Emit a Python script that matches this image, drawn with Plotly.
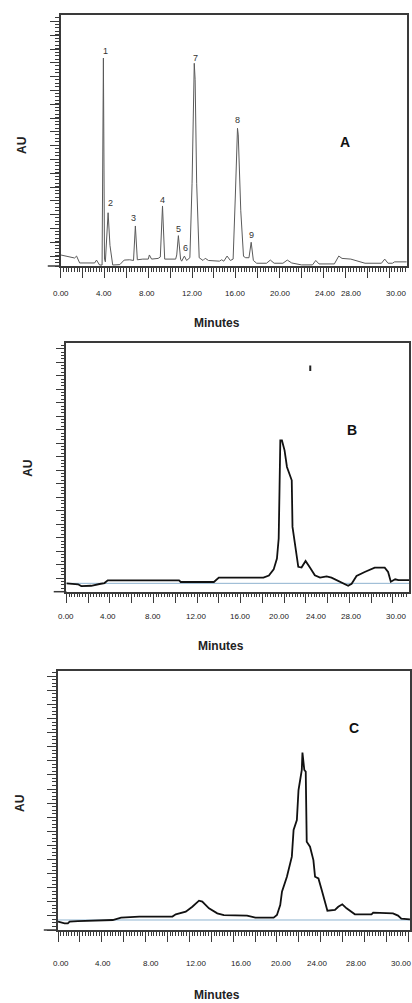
import plotly.graph_objects as go

# ---------------- data ----------------
# Panel A (standards chromatogram)
a_time = [0, 1.27, 1.45, 1.73, 3.1, 3.27, 3.55, 3.78, 3.9, 4.0, 4.08, 4.2, 4.33, 4.5, 4.75, 5.4, 5.8, 6.3,
          6.65, 6.82, 7.0, 7.5, 8.0, 8.1, 8.3, 8.9, 9.1, 9.3, 9.5, 10.5, 10.6, 10.75, 10.95, 11.05, 11.3,
          11.5, 11.8, 12.0, 12.12, 12.2, 12.28, 12.42, 12.65, 13.0, 13.2, 13.5, 14.5, 14.7, 14.9, 15.2,
          15.5, 15.75, 15.95, 16.1, 16.15, 16.22, 16.45, 16.7, 16.9, 17.2, 17.4, 17.6, 17.9, 18.8, 19.15,
          19.5, 20.3, 20.7, 21.1, 22.0, 23.0, 23.3, 23.6, 25.0, 25.2, 25.4, 25.7, 26.5, 27.8, 29.3, 29.6,
          29.9, 30.3, 30.5, 31.6]
a_au = [0.080, 0.058, 0.072, 0.022, 0.022, 0.043, 0.007, 0.007, 1.507, 0.05, 0.03, 0.2, 0.386, 0.15, 0.007,
        0.01, 0.043, 0.045, 0.04, 0.29, 0.045, 0.05, 0.05, 0.08, 0.05, 0.055, 0.065, 0.435, 0.05, 0.05, 0.08,
        0.22, 0.05, 0.035, 0.072, 0.04, 0.06, 0.6, 1.35, 1.469, 1.35, 0.6, 0.06, 0.04, 0.056, 0.04, 0.035,
        0.045, 0.035, 0.072, 0.04, 0.05, 0.5, 0.97, 0.998, 0.95, 0.4, 0.07, 0.06, 0.06, 0.172, 0.04, 0.02,
        0.02, 0.043, 0.02, 0.02, 0.043, 0.022, 0.008, 0.008, 0.04, 0.015, 0.015, 0.04, 0.072, 0.055, 0.05,
        0.02, 0.02, 0.05, 0.02, 0.02, 0.03, 0.03]
peak_labels = ["1", "2", "3", "4", "5", "6", "7", "8", "9"]
peak_label_t = [4.09, 4.55, 6.64, 9.27, 10.73, 11.43, 12.34, 16.18, 17.45]
peak_label_au = [1.56, 0.457, 0.35, 0.478, 0.27, 0.13, 1.51, 1.058, 0.225]

# Panel B
b_time = [0, 1.07, 1.37, 2.28, 3.04, 3.5, 3.8, 10.35, 10.5, 13.55, 14.0, 18.1, 18.6, 19.04, 19.34, 19.5,
          19.58, 19.65, 19.8, 20.04, 20.26, 20.56, 20.7, 20.77, 21.0, 21.3, 21.6, 21.97, 22.37, 22.82,
          23.3, 23.9, 24.35, 25.57, 25.88, 26.2, 26.65, 27.4, 28.32, 29.24, 29.55, 29.8, 30.2, 30.5, 31.47]
b_au = [0.062, 0.055, 0.042, 0.044, 0.057, 0.064, 0.084, 0.084, 0.072, 0.072, 0.104, 0.104, 0.12, 0.165,
        0.246, 0.394, 0.775, 1.12, 1.12, 1.047, 0.924, 0.85, 0.825, 0.48, 0.332, 0.184, 0.179, 0.228,
        0.179, 0.122, 0.104, 0.114, 0.104, 0.054, 0.044, 0.059, 0.116, 0.146, 0.178, 0.178, 0.146, 0.074,
        0.092, 0.085, 0.085]
b_spot_t = [22.4]
b_spot_au = [1.655]
b_baseline = 0.062

# Panel C
c_time = [0, 0.6, 0.9, 1.06, 1.82, 5.0, 5.76, 7.43, 10.45, 10.76, 11.67, 12.27, 12.88, 13.18, 13.79, 14.55,
          15.15, 17.27, 18.03, 19.7, 20.0, 20.3, 20.46, 20.91, 21.36, 21.52, 21.82, 21.97, 22.12, 22.27,
          22.33, 22.42, 22.5, 22.63, 22.72, 23.02, 23.33, 23.48, 23.79, 24.09, 24.4, 24.61, 25.3, 25.6,
          25.97, 26.36, 27.12, 28.64, 28.79, 30.6, 31.06, 31.36, 32.15]
c_au = [0.059, 0.047, 0.047, 0.059, 0.063, 0.071, 0.088, 0.095, 0.095, 0.111, 0.13, 0.165, 0.208, 0.201,
        0.154, 0.118, 0.106, 0.102, 0.088, 0.088, 0.106, 0.177, 0.272, 0.378, 0.52, 0.709, 0.78, 0.993,
        1.064, 1.135, 1.258, 1.206, 1.135, 1.123, 0.626, 0.591, 0.496, 0.378, 0.366, 0.284, 0.189, 0.137,
        0.142, 0.165, 0.182, 0.154, 0.111, 0.111, 0.123, 0.118, 0.102, 0.08, 0.076]
c_baseline = 0.071

tick_text = ["0.00", "4.00", "8.00", "12.00", "16.00", "20.00", "24.00", "28.00", "30.00"]
a_tick_pos = [0, 3.91, 7.91, 12.0, 16.0, 20.09, 24.18, 26.55, 30.64]
b_tick_pos = [0, 3.8, 7.92, 11.94, 16.0, 19.6, 23.0, 26.2, 30.3]
c_tick_pos = [0.31, 4.15, 8.49, 12.64, 16.76, 20.4, 23.73, 27.27, 31.36]

# ---------------- layout geometry (pixels) ----------------
W, H = 412, 1003
def px(x):
    return x / W
def py(y):
    return 1 - y / H

panels = [
    dict(x0=61, x1=409, y0=15, y1=266, xmax=31.636, ymax=1.819, tick0=0.072, lab_y=293.5,
         au=(22, 145), min_y=323, ext=48, letter="A", letter_pos=(26.0, 0.90)),
    dict(x0=66.7, x1=411, y0=342.7, y1=591.7, xmax=31.47, ymax=1.844, tick0=0.0, lab_y=616.7,
         au=(28, 468), min_y=646, ext=54, letter="B", letter_pos=(26.26, 1.198)),
    dict(x0=58.3, x1=412, y0=671, y1=930, xmax=32.155, ymax=1.837, tick0=0.0, lab_y=963.3,
         au=(20, 803), min_y=995, ext=44, letter="C", letter_pos=(27.06, 1.43)),
]

fig = go.Figure()
axis_col = "#3a3a3a"

fig.add_trace(go.Scatter(x=a_time, y=a_au, mode="lines", line=dict(color="#5a5a5a", width=1),
                         xaxis="x", yaxis="y", hoverinfo="skip"))
fig.add_trace(go.Scatter(x=[0, panels[1]["xmax"]], y=[b_baseline, b_baseline], mode="lines",
                         line=dict(color="#8fb3cf", width=1), xaxis="x2", yaxis="y2", hoverinfo="skip"))
fig.add_trace(go.Scatter(x=b_time, y=b_au, mode="lines", line=dict(color="#111111", width=1.8),
                         xaxis="x2", yaxis="y2", hoverinfo="skip"))
fig.add_trace(go.Scatter(x=b_spot_t, y=b_spot_au, mode="markers",
                         marker=dict(symbol="line-ns", size=4, line=dict(color="#222222", width=2)),
                         xaxis="x2", yaxis="y2", hoverinfo="skip"))
fig.add_trace(go.Scatter(x=[0, panels[2]["xmax"]], y=[c_baseline, c_baseline], mode="lines",
                         line=dict(color="#8fb3cf", width=1), xaxis="x3", yaxis="y3", hoverinfo="skip"))
fig.add_trace(go.Scatter(x=c_time, y=c_au, mode="lines", line=dict(color="#111111", width=1.8),
                         xaxis="x3", yaxis="y3", hoverinfo="skip"))

annotations = []
shapes = []
layout_axes = {}
tick_sets = [a_tick_pos, b_tick_pos, c_tick_pos]
for i, p in enumerate(panels):
    n = "" if i == 0 else str(i + 1)
    xa = "xaxis" + n
    ya = "yaxis" + n
    xref = "x" + n
    yref = "y" + n
    layout_axes[xa] = dict(
        domain=[px(p["x0"]), min(px(p["x1"]), 1.0)], range=[0, p["xmax"]], anchor=yref,
        showgrid=False, zeroline=False, showline=True, linecolor=axis_col, linewidth=1.5, mirror=True,
        ticks="outside", tick0=0, dtick=2, ticklen=10, tickwidth=1, tickcolor=axis_col,
        showticklabels=False,
        minor=dict(ticks="outside", dtick=0.25, ticklen=4, tickwidth=1, tickcolor=axis_col),
        fixedrange=True,
    )
    layout_axes[ya] = dict(
        domain=[py(p["y1"]), py(p["y0"])], range=[0, p["ymax"]], anchor=xref,
        showgrid=False, zeroline=False, showline=True, linecolor=axis_col, linewidth=1.5, mirror=True,
        ticks="outside", tick0=p["tick0"], dtick=0.1, ticklen=9, tickwidth=1, tickcolor=axis_col,
        showticklabels=False,
        minor=dict(ticks="outside", dtick=0.025, ticklen=4, tickwidth=1, tickcolor=axis_col),
        fixedrange=True,
    )
    shapes.append(dict(type="line", xref="paper", yref="paper", x0=px(p["ext"]), x1=px(p["x0"]),
                       y0=py(p["y1"]), y1=py(p["y1"]), line=dict(color=axis_col, width=1.5)))
    for tv, tt in zip(tick_sets[i], tick_text):
        annotations.append(dict(x=tv, y=py(p["lab_y"]), xref=xref, yref="paper", text=tt,
                                showarrow=False, xanchor="center", yanchor="middle",
                                font=dict(family="Arial, Liberation Sans", size=8, color="#222222")))
    annotations.append(dict(x=px(p["au"][0]), y=py(p["au"][1]), xref="paper", yref="paper", text="<b>AU</b>",
                            textangle=-90, showarrow=False, xanchor="center", yanchor="middle",
                            font=dict(family="Arial, Liberation Sans", size=12, color="#222222")))
    annotations.append(dict(x=px((p["x0"] + p["x1"]) / 2 - 17), y=py(p["min_y"]), xref="paper", yref="paper",
                            text="<b>Minutes</b>", showarrow=False, xanchor="center", yanchor="middle",
                            font=dict(family="Arial, Liberation Sans", size=12, color="#222222")))
    annotations.append(dict(x=p["letter_pos"][0], y=p["letter_pos"][1], xref=xref, yref=yref,
                            text="<b>%s</b>" % p["letter"], showarrow=False, xanchor="center", yanchor="middle",
                            font=dict(family="Arial, Liberation Sans", size=14, color="#111111")))

for lab, t, v in zip(peak_labels, peak_label_t, peak_label_au):
    annotations.append(dict(x=t, y=v, xref="x", yref="y", text=lab, showarrow=False,
                            xanchor="center", yanchor="middle",
                            font=dict(family="Arial, Liberation Sans", size=9, color="#333333")))

fig.update_layout(
    width=W, height=H, margin=dict(l=0, r=0, t=0, b=0),
    paper_bgcolor="white", plot_bgcolor="white", showlegend=False,
    annotations=annotations, shapes=shapes, **layout_axes,
)

fig.write_html("out.html", config={"displayModeBar": False},
               post_script="document.body.style.margin='0';document.body.style.overflow='hidden';")
